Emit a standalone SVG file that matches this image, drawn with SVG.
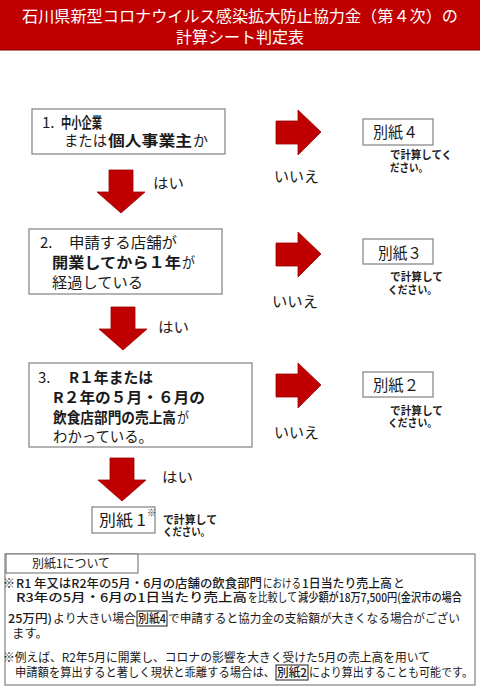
<svg xmlns="http://www.w3.org/2000/svg" width="480" height="694" viewBox="0 0 480 694">
<defs>
<style>
text{font-family:"Noto Sans CJK JP","Noto Sans",sans-serif;fill:#1a1a1a;}
.t{fill:#fff;font-size:16px;}
.q{font-size:15px;}
.b{font-weight:bold;}
.m{font-weight:500;}
.lab{font-size:14px;}
.no{font-size:15px;}
.sm{font-size:11px;font-weight:bold;}
.bx{fill:#fff;stroke:#808080;stroke-width:1.2;}
.arr{fill:#c00000;stroke:#9a0000;stroke-width:0.8;}
.nt{font-size:12px;}
.kb{fill:none;stroke:#1a1a1a;stroke-width:1;}
</style>
<path id="down" d="M-12,0 H12 V22 H24 L0,43 L-24,22 H-12 Z"/>
<path id="right" d="M0,-11 H22 V-22 L45,0 L22,23 V12 H0 Z"/>
</defs>
<rect width="480" height="694" fill="#fff"/>

<g id="title">
<rect x="0" y="0" width="480" height="50" fill="#c00000"/>
<line x1="0" y1="50" x2="480" y2="50" stroke="#7a0000" stroke-width="1"/>
<text class="t" x="22" y="22" textLength="436" lengthAdjust="spacingAndGlyphs">石川県新型コロナウイルス感染拡大防止協力金（第４次）の</text>
<text class="t" x="176" y="43" textLength="128" lengthAdjust="spacingAndGlyphs">計算シート判定表</text>
</g>

<g id="connectors">
<use href="#down" class="arr" x="121" y="170"/>
<use href="#down" class="arr" x="123" y="307"/>
<use href="#down" class="arr" x="122" y="458"/>
<use href="#right" class="arr" x="276" y="132"/>
<use href="#right" class="arr" x="276" y="254"/>
<use href="#right" class="arr" x="276" y="385"/>
<text class="lab" x="153" y="188" textLength="31" lengthAdjust="spacingAndGlyphs">はい</text>
<text class="lab" x="158" y="332" textLength="31" lengthAdjust="spacingAndGlyphs">はい</text>
<text class="lab" x="162" y="482" textLength="31" lengthAdjust="spacingAndGlyphs">はい</text>
<text class="no" x="274" y="182" textLength="45" lengthAdjust="spacingAndGlyphs">いいえ</text>
<text class="no" x="272" y="307" textLength="46" lengthAdjust="spacingAndGlyphs">いいえ</text>
<text class="no" x="274" y="438" textLength="45" lengthAdjust="spacingAndGlyphs">いいえ</text>
</g>

<g id="q1">
<rect class="bx" x="32" y="109" width="193" height="45"/>
<text x="42" y="128" font-size="15">1.</text>
<text class="b" x="61" y="128" font-size="15" textLength="41" lengthAdjust="spacingAndGlyphs">中小企業</text>
<text class="q" x="64" y="146" textLength="43" lengthAdjust="spacingAndGlyphs">または</text>
<text class="q b" x="108" y="146" textLength="84" lengthAdjust="spacingAndGlyphs">個人事業主</text>
<text class="q" x="193" y="146" textLength="15" lengthAdjust="spacingAndGlyphs">か</text>
</g>

<g id="q2">
<rect class="bx" x="29" y="229" width="193" height="65"/>
<text class="q" x="40" y="248">2.</text>
<text class="q" x="69" y="248" textLength="108" lengthAdjust="spacingAndGlyphs">申請する店舗が</text>
<text class="q b" x="52" y="268" textLength="129" lengthAdjust="spacingAndGlyphs">開業してから１年</text>
<text class="q" x="182" y="268" textLength="13" lengthAdjust="spacingAndGlyphs">が</text>
<text class="q" x="52" y="288" textLength="91" lengthAdjust="spacingAndGlyphs">経過している</text>
</g>

<g id="q3">
<rect class="bx" x="29" y="363" width="223" height="84"/>
<text class="q" x="38" y="383">3.</text>
<text class="q b" x="69" y="383" textLength="84" lengthAdjust="spacingAndGlyphs">R１年または</text>
<text class="q b" x="53" y="403" textLength="152" lengthAdjust="spacingAndGlyphs">R２年の５月・６月の</text>
<text class="q b" x="53" y="423" textLength="123" lengthAdjust="spacingAndGlyphs">飲食店部門の売上高</text>
<text class="q" x="177" y="423" textLength="12" lengthAdjust="spacingAndGlyphs">が</text>
<text class="q" x="53" y="442" textLength="100" lengthAdjust="spacingAndGlyphs">わかっている。</text>
</g>

<g id="s4">
<rect class="bx" x="363" y="119" width="70" height="26"/>
<text x="373" y="138" font-size="16" textLength="45" lengthAdjust="spacingAndGlyphs">別紙４</text>
<text class="sm" x="390" y="159" textLength="62" lengthAdjust="spacingAndGlyphs">で計算してく</text>
<text class="sm" x="390" y="172" textLength="38" lengthAdjust="spacingAndGlyphs">ださい。</text>
</g>

<g id="s3">
<rect class="bx" x="363" y="239" width="70" height="25"/>
<text x="378" y="259" font-size="16" textLength="44" lengthAdjust="spacingAndGlyphs">別紙３</text>
<text class="sm" x="390" y="281" textLength="53" lengthAdjust="spacingAndGlyphs">で計算して</text>
<text class="sm" x="388" y="294" textLength="49" lengthAdjust="spacingAndGlyphs">ください。</text>
</g>

<g id="s2">
<rect class="bx" x="363" y="372" width="70" height="25"/>
<text x="373" y="391" font-size="16" textLength="46" lengthAdjust="spacingAndGlyphs">別紙２</text>
<text class="sm" x="390" y="415" textLength="53" lengthAdjust="spacingAndGlyphs">で計算して</text>
<text class="sm" x="388" y="427" textLength="49" lengthAdjust="spacingAndGlyphs">ください。</text>
</g>

<g id="s1">
<rect class="bx" x="92" y="507" width="63" height="26"/>
<text x="99" y="526" font-size="16" textLength="47" lengthAdjust="spacingAndGlyphs">別紙 1</text>
<text x="147" y="516" font-size="9">※</text>
<text class="sm" x="163" y="524" textLength="54" lengthAdjust="spacingAndGlyphs">で計算して</text>
<text class="sm" x="163" y="536" textLength="47" lengthAdjust="spacingAndGlyphs">ください。</text>
</g>

<g id="notes">
<rect class="bx" x="5" y="554" width="470" height="131"/>
<rect class="bx" x="6" y="554" width="132" height="19"/>
<text class="nt" x="32" y="568" font-size="13" textLength="78" lengthAdjust="spacingAndGlyphs">別紙1について</text>

<text class="nt" x="3" y="588" textLength="12" lengthAdjust="spacingAndGlyphs">※</text>
<text class="nt m" x="16" y="588" textLength="246" lengthAdjust="spacingAndGlyphs">R1 年又はR2年の5月・6月の店舗の飲食部門</text>
<text class="nt" x="263" y="588" textLength="38" lengthAdjust="spacingAndGlyphs">における</text>
<text class="nt m" x="302" y="588" textLength="90" lengthAdjust="spacingAndGlyphs">1日当たり売上高</text>
<text class="nt" x="393" y="588" textLength="12" lengthAdjust="spacingAndGlyphs">と</text>

<text class="nt m" x="16" y="602" textLength="231" lengthAdjust="spacingAndGlyphs">R3年の5月・6月の1日当たり売上高</text>
<text class="nt" x="248" y="602" textLength="49" lengthAdjust="spacingAndGlyphs">を比較して</text>
<text class="nt m" x="298" y="602" textLength="164" lengthAdjust="spacingAndGlyphs">減少額が18万7,500円(金沢市の場合</text>

<text class="nt m" x="8" y="623" textLength="44" lengthAdjust="spacingAndGlyphs">25万円)</text>
<text class="nt" x="53" y="623" textLength="83" lengthAdjust="spacingAndGlyphs">より大きい場合</text>
<rect class="kb" x="137" y="611" width="30" height="15"/>
<text class="nt m" x="138" y="623" textLength="28" lengthAdjust="spacingAndGlyphs">別紙4</text>
<text class="nt" x="168" y="623" textLength="292" lengthAdjust="spacingAndGlyphs">で申請すると協力金の支給額が大きくなる場合がござい</text>
<text class="nt" x="12" y="638" textLength="36" lengthAdjust="spacingAndGlyphs">ます。</text>

<text class="nt" x="3" y="662" textLength="427" lengthAdjust="spacingAndGlyphs">※例えば、R2年5月に開業し、コロナの影響を大きく受けた5月の売上高を用いて</text>
<text class="nt" x="15" y="677" textLength="260" lengthAdjust="spacingAndGlyphs">申請額を算出すると著しく現状と乖離する場合は、</text>
<rect class="kb" x="276" y="665" width="32" height="15"/>
<text class="nt m" x="277" y="677" textLength="30" lengthAdjust="spacingAndGlyphs">別紙2</text>
<text class="nt" x="309" y="677" textLength="164" lengthAdjust="spacingAndGlyphs">により算出することも可能です。</text>
</g>
</svg>
